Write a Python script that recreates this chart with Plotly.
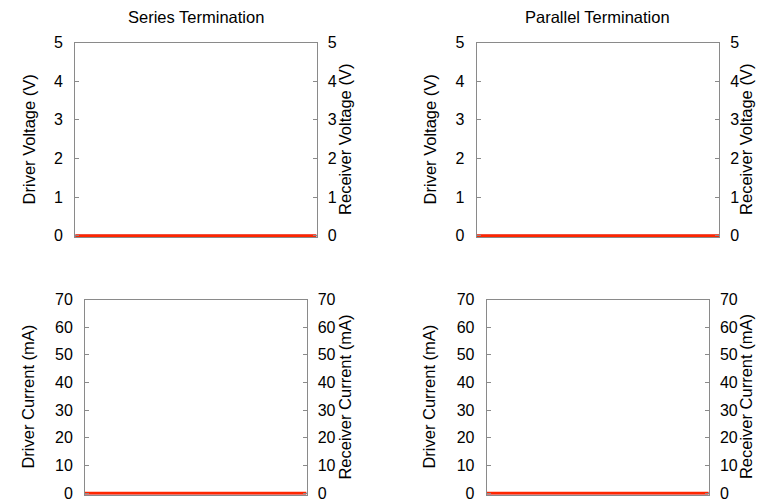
import plotly.graph_objects as go

# ---- data ----
time_ns = [0, 2, 4, 6, 8, 10]
series_driver_v = [0, 0, 0, 0, 0, 0]
series_receiver_v = [0, 0, 0, 0, 0, 0]
parallel_driver_v = [0, 0, 0, 0, 0, 0]
parallel_receiver_v = [0, 0, 0, 0, 0, 0]
series_driver_ma = [0, 0, 0, 0, 0, 0]
series_receiver_ma = [0, 0, 0, 0, 0, 0]
parallel_driver_ma = [0, 0, 0, 0, 0, 0]
parallel_receiver_ma = [0, 0, 0, 0, 0, 0]

panel_titles = ["Series Termination", "Parallel Termination"]
volt_ticks = [0, 1, 2, 3, 4, 5]
curr_ticks = [0, 10, 20, 30, 40, 50, 60, 70]

# the page body adds an 8px offset; the figure fills the rest of the window
OFF = 8
W, H = 767 - OFF, 501 - OFF
FONT = "Liberation Sans, Arial, Helvetica, sans-serif"
GRAY = "#8a8a8a"
RED = "rgb(255,38,0)"
BLUE = "rgb(0,60,255)"
TXT = 16.5

def px_x(p):
    return (p - OFF) / W

def px_y(p):
    return 1 - (p - OFF) / H

top_dom = [px_y(237.2), px_y(42.7)]
bot_dom = [px_y(494.7), px_y(299.5)]
x_doms = {
    "x": [px_x(75.2), px_x(316.5)],
    "x2": [px_x(476.7), px_x(719.0)],
    "x3": [px_x(85.0), px_x(306.5)],
    "x4": [px_x(486.7), px_x(708.7)],
}

fig = go.Figure()

panels = [
    # xaxis, left y, right y, driver, receiver
    ("x", "y", "y2", series_driver_v, series_receiver_v),
    ("x2", "y3", "y4", parallel_driver_v, parallel_receiver_v),
    ("x3", "y5", "y6", series_driver_ma, series_receiver_ma),
    ("x4", "y7", "y8", parallel_driver_ma, parallel_receiver_ma),
]
for xa, yl, yr, drv, rcv in panels:
    fig.add_trace(go.Scatter(x=time_ns, y=drv, mode="lines", xaxis=xa, yaxis=yl,
                             line=dict(color=BLUE, width=2), showlegend=False))
    fig.add_trace(go.Scatter(x=time_ns, y=rcv, mode="lines", xaxis=xa, yaxis=yr,
                             line=dict(color=RED, width=3), showlegend=False))

def xax(dom, anchor):
    return dict(domain=dom, anchor=anchor, range=[time_ns[0], time_ns[-1]],
                showline=True, mirror=True, linecolor=GRAY, linewidth=1,
                showticklabels=False, ticks="", showgrid=False, zeroline=False,
                automargin=False)

def yax(dom, anchor, rng, ticks, side="left", overlay=None):
    d = dict(anchor=anchor, range=rng, tickvals=ticks, side=side,
             showline=True, linecolor=GRAY, linewidth=1,
             ticks="inside", ticklen=4, tickcolor=GRAY, tickwidth=1,
             ticklabelstandoff=8 if side == "left" else 7, automargin=False,
             ticklabeloverflow="allow",
             showgrid=False, zeroline=False,
             tickfont=dict(size=16, color="black", family=FONT))
    if overlay:
        d["overlaying"] = overlay
    else:
        d["domain"] = dom
    return d

vr = [-0.04, 5]
cr = [-0.55, 70]
fig.update_layout(
    template="none",
    width=W, height=H,
    margin=dict(l=0, r=0, t=0, b=0, pad=0),
    paper_bgcolor="white", plot_bgcolor="white",
    font=dict(family=FONT, size=16, color="black"),
    xaxis=xax(x_doms["x"], "y"),
    xaxis2=xax(x_doms["x2"], "y3"),
    xaxis3=xax(x_doms["x3"], "y5"),
    xaxis4=xax(x_doms["x4"], "y7"),
    yaxis=yax(top_dom, "x", vr, volt_ticks),
    yaxis2=yax(top_dom, "x", vr, volt_ticks, side="right", overlay="y"),
    yaxis3=yax(top_dom, "x2", vr, volt_ticks),
    yaxis4=yax(top_dom, "x2", vr, volt_ticks, side="right", overlay="y3"),
    yaxis5=yax(bot_dom, "x3", cr, curr_ticks),
    yaxis6=yax(bot_dom, "x3", cr, curr_ticks, side="right", overlay="y5"),
    yaxis7=yax(bot_dom, "x4", cr, curr_ticks),
    yaxis8=yax(bot_dom, "x4", cr, curr_ticks, side="right", overlay="y7"),
)

ann = []
# panel titles
for title, dom in zip(panel_titles, [x_doms["x"], x_doms["x2"]]):
    ann.append(dict(text=title, x=(dom[0] + dom[1]) / 2, y=px_y(16.5), xref="paper", yref="paper",
                    xanchor="center", yanchor="middle", showarrow=False, font=dict(size=TXT)))

def ytitle(text, xpix, dom):
    return dict(text=text, x=px_x(xpix), y=(dom[0] + dom[1]) / 2, xref="paper", yref="paper",
                xanchor="center", yanchor="middle", textangle=-90, showarrow=False,
                font=dict(size=TXT))

ann += [
    ytitle("Driver Voltage (V)", 28.5, top_dom),
    ytitle("Receiver Voltage (V)", 345, top_dom),
    ytitle("Driver Voltage (V)", 429.5, top_dom),
    ytitle("Receiver Voltage (V)", 746, top_dom),
    ytitle("Driver Current (mA)", 28.5, bot_dom),
    ytitle("Receiver Current (mA)", 345.5, bot_dom),
    ytitle("Driver Current (mA)", 429.5, bot_dom),
    ytitle("Receiver Current (mA)", 746, bot_dom),
]
fig.update_layout(annotations=ann)

fig.write_html("out.html")
